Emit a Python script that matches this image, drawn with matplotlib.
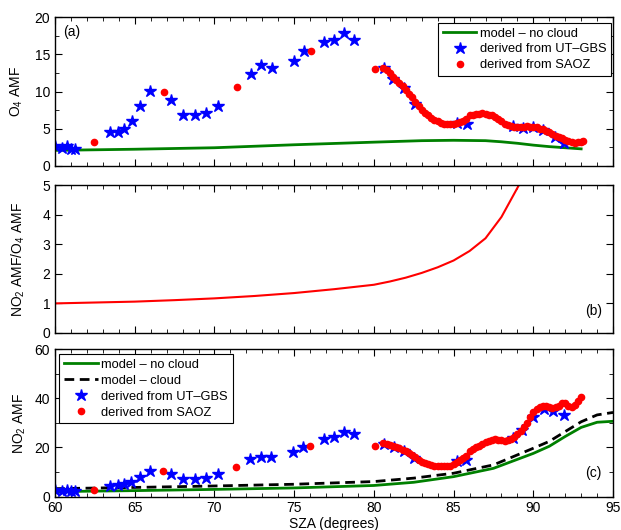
import matplotlib
matplotlib.use('Agg')
import matplotlib.pyplot as plt
from matplotlib.ticker import MultipleLocator

plt.rcParams['font.family'] = ['Liberation Sans', 'DejaVu Sans']
plt.rcParams['mathtext.default'] = 'regular'
plt.rcParams['font.size'] = 10

# ---- panel (a): O4 AMF ----
o4_gbs_sza = [60.0, 60.45, 60.75, 61.0, 61.25, 63.45, 63.95, 64.35, 64.8, 65.3, 65.95,
              67.3, 68.0, 68.8, 69.5, 70.25, 72.3, 72.95, 73.6, 75.0, 75.6,
              76.9, 77.5, 78.1, 78.75, 80.65, 81.2, 81.9, 82.55, 85.2, 85.85,
              88.75, 89.35, 90.0, 90.6, 91.35, 91.95]
o4_gbs_amf = [2.7, 2.4, 2.7, 2.3, 2.3, 4.6, 4.6, 4.9, 6.0, 8.1, 10.1,
              8.9, 6.9, 6.8, 7.1, 8.1, 12.4, 13.5, 13.1, 14.1, 15.4,
              16.7, 16.9, 17.9, 16.9, 13.2, 11.7, 10.5, 8.3, 5.8, 5.6,
              5.4, 5.15, 5.3, 4.85, 3.95, 3.15]
o4_saoz_sza = [62.45, 66.85, 71.4, 76.05, 80.1,
               80.6, 80.8, 81.0, 81.2, 81.4, 81.6, 81.8, 82.0, 82.2, 82.4, 82.6, 82.8,
               83.0, 83.2, 83.4, 83.6, 83.8, 84.0, 84.2, 84.4, 84.6, 84.8, 85.0, 85.2,
               85.4, 85.6, 85.8, 86.0, 86.2, 86.4, 86.6, 86.8, 87.0, 87.2, 87.4, 87.6,
               87.8, 88.0, 88.2, 88.4, 88.6, 88.8, 89.0, 89.2, 89.4, 89.6, 89.8, 90.0,
               90.2, 90.4, 90.6, 90.8, 91.0, 91.2, 91.4, 91.6, 91.8, 92.0, 92.2, 92.4,
               92.6, 92.8, 93.0, 93.1]
o4_saoz_amf = [3.2, 9.9, 10.6, 15.4, 13.05,
               13.2, 12.9, 12.5, 12.0, 11.5, 11.1, 10.7, 10.2, 9.7, 9.2, 8.6, 8.0,
               7.5, 7.1, 6.8, 6.5, 6.2, 6.0, 5.8, 5.7, 5.6, 5.6, 5.7, 5.8,
               5.9, 6.0, 6.3, 6.8, 6.9, 7.0, 7.0, 7.1, 7.0, 6.9, 6.8, 6.6,
               6.3, 6.0, 5.7, 5.5, 5.4, 5.3, 5.3, 5.2, 5.3, 5.4, 5.3, 5.3,
               5.2, 5.0, 4.9, 4.7, 4.5, 4.3, 4.0, 3.9, 3.7, 3.5, 3.3, 3.2,
               3.1, 3.2, 3.2, 3.3]
o4_model_sza = [60, 65, 70, 75, 80, 83, 85, 87, 88, 89, 90, 91, 92, 93]
o4_model_amf = [2.1, 2.25, 2.45, 2.85, 3.2, 3.4, 3.45, 3.4, 3.25, 3.05, 2.8, 2.6, 2.45, 2.3]

# ---- panel (b): ratio ----
ratio_sza = [60, 62.5, 65, 67.5, 70, 72.5, 75, 77.5, 80, 81, 82, 83, 84, 85, 86, 87, 88, 89.1, 89.3]
ratio_val = [1.0, 1.03, 1.06, 1.11, 1.17, 1.25, 1.35, 1.48, 1.63, 1.74, 1.87, 2.03, 2.22,
             2.45, 2.77, 3.2, 3.92, 5.0, 5.3]

# ---- panel (c): NO2 AMF ----
no2_gbs_sza = [60.0, 60.45, 60.75, 61.0, 61.25, 63.45, 63.95, 64.35, 64.75, 65.3, 65.95,
               67.3, 68.0, 68.75, 69.5, 70.2, 72.25, 72.9, 73.55, 74.95, 75.55,
               76.9, 77.5, 78.15, 78.75, 80.65, 81.25, 81.9, 82.5, 85.2, 85.8,
               88.7, 89.3, 89.95, 90.65, 91.25, 91.9]
no2_gbs_amf = [2.5, 2.2, 2.5, 2.1, 2.1, 4.3, 4.5, 5.0, 6.1, 8.1, 10.6,
               9.2, 7.1, 7.1, 7.7, 9.1, 15.2, 16.3, 16.0, 18.1, 20.1,
               23.5, 24.4, 26.2, 25.5, 21.4, 20.0, 18.6, 15.6, 14.3, 14.7,
               24.0, 27.1, 32.3, 35.6, 35.0, 33.3]
no2_saoz_sza = [62.45, 66.8, 71.35, 76.0, 80.05,
                80.6, 80.8, 81.0, 81.2, 81.4, 81.6, 81.8, 82.0, 82.2, 82.4, 82.6, 82.8,
                83.0, 83.2, 83.4, 83.6, 83.8, 84.0, 84.2, 84.4, 84.6, 84.8, 85.0, 85.2,
                85.4, 85.6, 85.8, 86.0, 86.2, 86.4, 86.6, 86.8, 87.0, 87.2, 87.4, 87.6,
                87.8, 88.0, 88.2, 88.4, 88.6, 88.8, 89.0, 89.2, 89.4, 89.6, 89.8, 90.0,
                90.2, 90.4, 90.6, 90.8, 91.0, 91.2, 91.4, 91.6, 91.8, 92.0, 92.2, 92.4,
                92.6, 92.8, 93.0]
no2_saoz_amf = [2.7, 10.5, 12.2, 20.6, 20.6,
                21.8, 21.4, 21.0, 20.6, 20.1, 19.6, 19.0, 18.4, 17.7, 17.0, 16.0, 15.0,
                14.2, 13.6, 13.1, 12.8, 12.6, 12.4, 12.3, 12.3, 12.4, 12.6, 13.2, 14.0,
                14.8, 15.6, 16.5, 18.5, 19.3, 20.0, 20.7, 21.5, 22.2, 22.8, 23.2, 23.3,
                23.1, 22.9, 22.8, 23.0, 23.6, 24.4, 25.5, 26.9, 28.5, 30.2, 32.5, 34.3,
                35.6, 36.6, 37.1, 37.0, 36.6, 36.3, 36.5, 36.8, 38.0, 38.3, 36.8, 36.6,
                37.5, 39.0, 40.5]
no2_model_sza = [60, 65, 70, 75, 80, 82.5, 85, 87.5, 90, 91, 92, 93, 94, 95]
no2_model_clear = [2.0, 2.4, 2.9, 3.5, 4.5, 5.8, 8.1, 11.5, 17.6, 20.5, 24.5, 28.2, 30.3, 30.7]
no2_model_cloud = [3.2, 3.7, 4.3, 5.0, 6.1, 7.5, 9.5, 12.9, 19.7, 22.5, 26.5, 30.5, 33.3, 34.3]

green = '#008000'
legend_kw = dict(handlelength=2.6, handletextpad=0.3, fancybox=False, framealpha=1,
                 edgecolor='black', borderaxespad=0, borderpad=0.35,
                 labelspacing=0.3, fontsize=9.3)

fig = plt.figure(figsize=(6.21, 5.30), dpi=100)
ax_a = fig.add_axes([0.0886, 0.6868, 0.8986, 0.2811])
ax_b = fig.add_axes([0.0886, 0.3717, 0.8986, 0.2792])
ax_c = fig.add_axes([0.0886, 0.0632, 0.8986, 0.2774])

# (a)
ax_a.plot(o4_model_sza, o4_model_amf, color=green, lw=2, label='model \u2013 no cloud')
ax_a.plot(o4_gbs_sza, o4_gbs_amf, '*', color='b', ms=9, mec='b', label='derived from UT\u2013GBS')
ax_a.plot(o4_saoz_sza, o4_saoz_amf, 'o', color='r', ms=4.5, mec='r', label='derived from SAOZ')
ax_a.set_ylim(0, 20)
ax_a.yaxis.set_major_locator(MultipleLocator(5))
ax_a.yaxis.set_minor_locator(MultipleLocator(2.5))
ax_a.set_ylabel('O$_4$ AMF', labelpad=7)
ax_a.text(0.015, 0.9, '(a)', transform=ax_a.transAxes, ha='left', va='center')
leg = ax_a.legend(loc='upper right', bbox_to_anchor=(0.997, 0.96), **legend_kw)
leg.get_frame().set_linewidth(0.8)

# (b)
ax_b.plot(ratio_sza, ratio_val, color='r', lw=1.5)
ax_b.set_ylim(0, 5)
ax_b.yaxis.set_major_locator(MultipleLocator(1))
ax_b.set_ylabel('NO$_2$ AMF/O$_4$ AMF', labelpad=11)
ax_b.text(0.965, 0.15, '(b)', transform=ax_b.transAxes, ha='center', va='center')

# (c)
ax_c.plot(no2_model_sza, no2_model_clear, color=green, lw=2, label='model \u2013 no cloud')
ax_c.plot(no2_model_sza, no2_model_cloud, color='black', lw=2, ls=(0, (3.5, 2)), label='model \u2013 cloud')
ax_c.plot(no2_gbs_sza, no2_gbs_amf, '*', color='b', ms=9, mec='b', label='derived from UT\u2013GBS')
ax_c.plot(no2_saoz_sza, no2_saoz_amf, 'o', color='r', ms=4.5, mec='r', label='derived from SAOZ')
ax_c.set_ylim(0, 60)
ax_c.yaxis.set_major_locator(MultipleLocator(20))
ax_c.yaxis.set_minor_locator(MultipleLocator(10))
ax_c.set_ylabel('NO$_2$ AMF', labelpad=5)
ax_c.set_xlabel('SZA (degrees)', labelpad=1)
ax_c.text(0.965, 0.16, '(c)', transform=ax_c.transAxes, ha='center', va='center')
leg = ax_c.legend(loc='upper left', bbox_to_anchor=(0.008, 0.967), **legend_kw)
leg.get_frame().set_linewidth(0.8)

for ax in (ax_a, ax_b, ax_c):
    ax.set_xlim(60, 95)
    ax.xaxis.set_major_locator(MultipleLocator(5))
    ax.xaxis.set_minor_locator(MultipleLocator(1))
    ax.tick_params(which='both', direction='in', top=True, right=True, labelsize=10)
    ax.tick_params(which='major', length=5)
    ax.tick_params(which='minor', length=3)
    for s in ax.spines.values():
        s.set_linewidth(1.0)

ax_a.tick_params(labelbottom=False)
ax_b.tick_params(labelbottom=False)

fig.savefig('out.png', dpi=100)
